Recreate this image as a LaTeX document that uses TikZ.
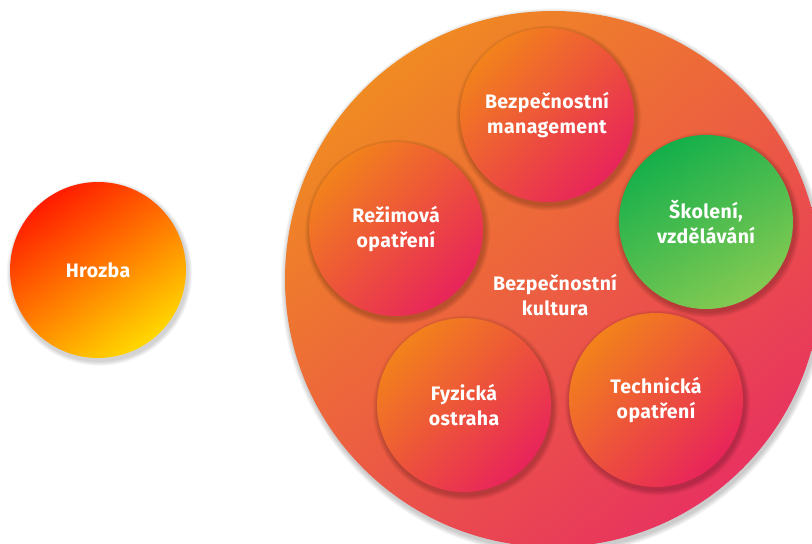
\documentclass[tikz,border=0pt]{standalone}
\usepackage{fontspec}
\setmainfont{Fira Sans}[LetterSpace=2]
\usetikzlibrary{calc}
\definecolor{bigA}{HTML}{F08A22}
\definecolor{bigB}{HTML}{E8335F}
\definecolor{smA}{HTML}{F2821C}
\definecolor{smB}{HTML}{E8245A}
\definecolor{grA}{HTML}{14AF4B}
\definecolor{grB}{HTML}{84CA52}
\definecolor{thA}{HTML}{FF1C00}
\definecolor{thB}{HTML}{FFD800}
\newcommand\softshadow[3]{%
  \foreach \k in {1,...,#3}
    \fill[black,opacity=0.03] ($(#1)+(1.5,3)$) circle ({#2+\k*0.8pt});}
\tikzset{
  lbl/.style={text=white,align=center,font=\bfseries\fontsize{19.5}{25}\selectfont},
  disc/.style={circle,draw=none,inner sep=0pt,minimum size=174pt,lbl},
  redisc/.style={disc,top color=smA,bottom color=smB,shading angle=45},
  grdisc/.style={disc,top color=grA,bottom color=grB,shading angle=30},
}
\begin{document}
\begin{tikzpicture}[x=1pt,y=-1pt]
\useasboundingbox (0,0) rectangle (812,544);
\clip (0,0) rectangle (812,544);
% positions
\coordinate (cb) at (553,279);
\coordinate (ch) at (98,270);
\coordinate (c1) at (547,115);
\coordinate (c2) at (396,229);
\coordinate (c3) at (706,222);
\coordinate (c4) at (464,405);
\coordinate (c5) at (656,400);
% threat
\softshadow{ch}{88pt}{6}
\node[disc,minimum size=176pt,top color=thA,bottom color=thB,shading angle=35] (threat) at (ch) {Hrozba};
% big circle
\softshadow{cb}{268pt}{7}
\node[circle,draw=none,inner sep=0pt,minimum size=536pt,top color=bigA,bottom color=bigB,shading angle=40] (culture) at (cb) {};
\node[lbl] (culturetext) at (555,295) {Bezpečnostní\\kultura};
% small circles
\foreach \c in {c1,c2,c3,c4,c5} {\softshadow{\c}{87pt}{7}}
\node[redisc] (mgmt) at (c1) {Bezpečnostní\\management};
\node[redisc] (regime) at (c2) {Režimová\\opatření};
\node[grdisc] (training) at (c3) {Školení,\\vzdělávání};
\node[redisc] (guard) at (c4) {Fyzická\\ostraha};
\node[redisc] (tech) at (c5) {Technická\\opatření};
\end{tikzpicture}
\end{document}
